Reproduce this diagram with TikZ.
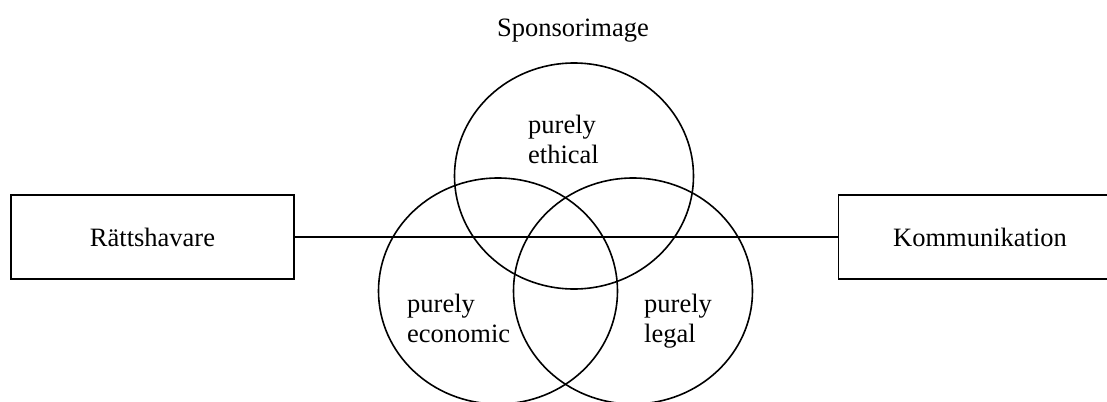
\documentclass[tikz,border=0pt]{standalone}
\usepackage{fontspec}
\setmainfont{Liberation Serif}
\usetikzlibrary{shapes.geometric}
\begin{document}
\begin{tikzpicture}[x=1bp,y=-1bp,
  every node/.style={font=\fontsize{26.6}{29.9}\selectfont},
  box/.style={draw,line width=1.6bp,minimum width=283bp,minimum height=84bp,inner sep=0pt},
  venn/.style={draw,ellipse,line width=1.6bp,minimum width=239bp,minimum height=226bp,inner sep=0pt},
  lbl/.style={align=left,inner sep=0pt,anchor=north west},
  conn/.style={line width=1.6bp}]
\useasboundingbox (0,0) rectangle (1107,401);
\clip (0,0) rectangle (1107,401);
\node[box] (rh) at (152.5,237) {Rättshavare};
\node[box] (ko) at (980,237) {Kommunikation};
\draw[conn] (rh.east) -- (ko.west);
\node[venn] (eth) at (574,176) {};
\node[venn] (eco) at (498,291) {};
\node[venn] (leg) at (633,291) {};
\node[anchor=base,inner sep=0pt] (title) at (573,36) {Sponsorimage};
\node[lbl] (teth) at (528,115) {purely\\ethical};
\node[lbl] (teco) at (407,294) {purely\\economic};
\node[lbl] (tleg) at (644,294) {purely\\legal};
\end{tikzpicture}
\end{document}
